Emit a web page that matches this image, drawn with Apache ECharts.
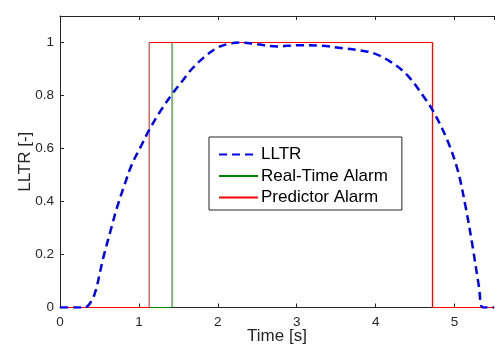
<!DOCTYPE html>
<html>
<head>
<meta charset="utf-8">
<script src="https://cdn.jsdelivr.net/npm/echarts@6/dist/echarts.min.js"></script>
<style>html,body{margin:0;padding:0;background:#fff;}#c{width:495px;height:345px;}</style>
</head>
<body>
<div id="c"></div>
<script>
const lltrX = [0, 0.15, 0.3, 0.36, 0.44, 0.55, 0.65, 0.72, 0.82, 0.91, 1.02, 1.13, 1.28, 1.42, 1.55, 1.67, 1.82, 1.98, 2.12, 2.28, 2.5, 2.75, 3.0, 3.3, 3.6, 3.8, 3.98, 4.19, 4.4, 4.61, 4.74, 4.91, 5.04, 5.14, 5.23, 5.31, 5.36, 5.5];
const lltrY = [0, 0, 0, 0.008, 0.052, 0.19, 0.30, 0.375, 0.465, 0.54, 0.605, 0.67, 0.745, 0.805, 0.855, 0.90, 0.943, 0.978, 0.994, 1.0, 0.993, 0.985, 0.99, 0.988, 0.978, 0.97, 0.959, 0.927, 0.877, 0.795, 0.735, 0.63, 0.518, 0.38, 0.228, 0.077, 0, 0];
const realTimeX = [0, 1.42, 1.42, 4.72, 4.72, 5.5];
const realTimeY = [0, 0, 1, 1, 0, 0];
const predictorX = [0, 1.13, 1.13, 4.72, 4.72, 5.5];
const predictorY = [0, 0, 1, 1, 0, 0];
const seriesNames = ['LLTR', 'Real-Time Alarm', 'Predictor Alarm'];

const zip = (xs, ys) => xs.map((x, i) => [x, ys[i]]);
const axisColor = '#262626';
const font = 'Liberation Sans, Arial, sans-serif';

const chart = echarts.init(document.getElementById('c'), null, {renderer: 'canvas'});
chart.setOption({
  animation: false,
  backgroundColor: '#fff',
  grid: {left: 60, top: 16, right: 1, bottom: 37.5, containLabel: false, outerBoundsMode: 'none'},
  legend: {
    orient: 'vertical',
    left: 209, top: 137,
    padding: [9, 14, 4, 9],
    itemGap: 4.5,
    itemWidth: 39,
    itemHeight: 18,
    borderColor: axisColor,
    borderWidth: 1,
    backgroundColor: '#fff',
    itemStyle: {opacity: 0},
    textStyle: {fontSize: 17, fontFamily: font, color: '#000', padding: [0, 0, 0, -2]},
    data: seriesNames
  },
  xAxis: [{
    type: 'value', min: 0, max: 5.5, interval: 1,
    name: 'Time [s]', nameLocation: 'middle', nameGap: 20, nameMoveOverlap: false,
    nameTextStyle: {fontSize: 17, fontFamily: font, color: axisColor},
    axisLine: {show: true, lineStyle: {color: axisColor, width: 1}},
    axisTick: {show: true, inside: true, length: 4, lineStyle: {color: axisColor}},
    axisLabel: {fontSize: 13.5, fontFamily: font, color: axisColor, margin: 8, showMaxLabel: false},
    splitLine: {show: false}
  }, {
    type: 'value', min: 0, max: 5.5, interval: 1, position: 'top',
    axisLine: {show: true, onZero: false, lineStyle: {color: axisColor, width: 1}},
    axisTick: {show: true, inside: true, length: 4, lineStyle: {color: axisColor}},
    axisLabel: {show: false},
    splitLine: {show: false}
  }],
  yAxis: {
    type: 'value', min: 0, max: 1.1, interval: 0.2,
    name: 'LLTR [-]', nameLocation: 'middle', nameGap: 26, nameMoveOverlap: false,
    nameTextStyle: {fontSize: 17, fontFamily: font, color: axisColor},
    axisLine: {show: true, lineStyle: {color: axisColor, width: 1}},
    axisTick: {show: true, inside: true, length: 4, lineStyle: {color: axisColor}},
    axisLabel: {fontSize: 13.5, fontFamily: font, color: axisColor, margin: 6, showMaxLabel: false},
    splitLine: {show: false}
  },
  series: [{
    name: seriesNames[0], type: 'line', data: zip(lltrX, lltrY),
    symbol: 'none', smooth: 0.35, z: 5,
    lineStyle: {color: '#0000ff', width: 2.5, type: [8, 5]},
    itemStyle: {color: '#0000ff'}
  }, {
    name: seriesNames[1], type: 'line', data: zip(realTimeX, realTimeY),
    symbol: 'none', z: 3,
    lineStyle: {color: '#008000', width: 1},
    itemStyle: {color: '#008000'}
  }, {
    name: seriesNames[2], type: 'line', data: zip(predictorX, predictorY),
    symbol: 'none', z: 4,
    lineStyle: {color: '#ff0000', width: 1},
    itemStyle: {color: '#ff0000'}
  }]
});
</script>
</body>
</html>
